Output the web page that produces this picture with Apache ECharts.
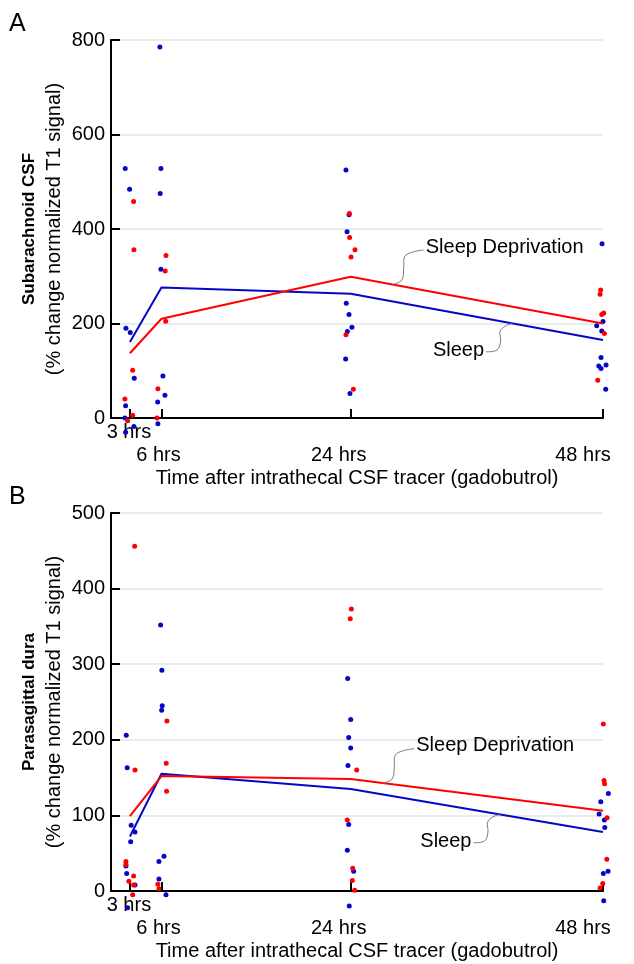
<!DOCTYPE html>
<html>
<head>
<meta charset="utf-8">
<script src="https://cdn.jsdelivr.net/npm/echarts@6/dist/echarts.min.js"></script>
<style>
html,body{margin:0;padding:0;background:#fff;}
#chart{width:634px;height:964px;}
</style>
</head>
<body>
<div id="chart"></div>
<script>
// ---------- data ----------
const tickHours = [3, 6, 24, 48];
const tickLabels = ['3 hrs', '6 hrs', '24 hrs', '48 hrs'];
const meanHours = [3, 6, 24, 48];

// Panel A: Subarachnoid CSF
const sleepMeanA = [161, 276, 263, 165];
const sdMeanA = [137, 210, 299, 200];
const sleepPtsA = [
  [2.55,528],[2.97,484],[2.62,190],[3.03,181],[3.41,84],[2.59,26],[2.52,0],[2.59,-30],[3.38,-18],
  [5.85,785],[5.95,528],[5.88,475],[5.95,315],[6.14,89],[6.33,48],[5.64,34],[5.66,-12],
  [23.55,525],[23.84,430],[23.65,394],[23.58,243],[23.84,219],[24.12,192],[23.68,183],[23.52,125],[23.93,52],
  [47.91,369],[48.0,204],[47.4,195],[47.88,184],[47.81,128],[47.6,110],[47.81,105],[48.29,112],[48.26,61]
];
const sdPtsA = [
  [3.35,458],[3.38,356],[3.26,101],[2.52,40],[3.26,6],[2.78,-6],
  [6.43,344],[6.36,311],[6.40,205],[5.66,62],[5.57,0],
  [23.88,433],[23.9,382],[24.41,356],[24.03,341],[23.55,176],[24.25,61],
  [47.78,271],[47.72,262],[48.07,222],[47.88,219],[48.13,179],[47.5,80]
];

// Panel B: Parasagittal dura
const sleepMeanB = [72, 155, 135, 78];
const sdMeanB = [99, 152, 148, 106];
const sleepPtsB = [
  [2.65,206],[2.74,163],[3.12,87],[3.48,78],[3.07,65],[2.62,33],[2.69,23],[3.48,8],[2.78,-22],
  [5.92,352],[6.04,292],[6.07,245],[6.02,239],[6.24,46],[5.76,39],[5.76,16],[6.43,-5],
  [23.71,281],[24.0,227],[23.81,203],[24.0,189],[23.74,166],[23.81,88],[23.68,54],[24.28,26],[23.86,-20],
  [48.51,129],[47.79,118],[47.63,102],[48.13,94],[48.17,84],[48.48,26],[48.03,23],[48.07,-13]
];
const sdPtsB = [
  [3.45,456],[3.48,160],[2.62,39],[2.62,35],[3.35,20],[2.9,13],[3.35,8],[3.26,-5],
  [6.52,225],[6.45,169],[6.49,132],[5.66,9],[5.76,3],
  [24.06,373],[23.96,360],[24.57,160],[23.67,94],[24.19,30],[24.15,14],[24.38,1],
  [48.03,221],[48.1,146],[48.15,142],[48.39,97],[48.36,42],[47.98,10],[47.72,4]
];

const panelTitles = ['Subarachnoid CSF', 'Parasagittal dura'];
const yUnit = '(% change normalized T1 signal)';
const xName = 'Time after intrathecal CSF tracer (gadobutrol)';
const seriesNames = ['Sleep', 'Sleep Deprivation'];
// annotation anchor hours on the mean lines [sleep, sleep deprivation]
const annotHours = [[39.4, 28.0], [38.2, 27.1]];

// ---------- styles ----------
const FONT = '"Liberation Sans", Arial, Helvetica, sans-serif';
const BLUE = '#0606c8';
const RED = '#ff0000';

function xAxis(gi) {
  return {
    type: 'value', gridIndex: gi, min: 1.2, max: 48,
    name: xName, nameLocation: 'middle', nameGap: 50, nameMoveOverlap: false,
    nameTextStyle: { fontSize: 20, color: '#000', fontFamily: FONT },
    axisLine: { show: true, onZero: false, lineStyle: { color: '#000', width: 2 } },
    axisTick: { show: true, inside: true, length: 9, customValues: tickHours, lineStyle: { color: '#000', width: 2 } },
    axisLabel: {
      customValues: tickHours, margin: 4, color: '#000', fontSize: 20, fontFamily: FONT,
      formatter: function (v) {
        const i = tickHours.indexOf(v);
        const key = ['a', 'b', 'c', 'd'][i];
        return '{' + key + '|' + tickLabels[i] + '}';
      },
      rich: {
        a: { fontSize: 20, fontFamily: FONT, color: '#000', padding: [0, 2, 0, 0] },
        b: { fontSize: 20, fontFamily: FONT, color: '#000', padding: [23, 6, 0, 0] },
        c: { fontSize: 20, fontFamily: FONT, color: '#000', padding: [23, 24, 0, 0] },
        d: { fontSize: 20, fontFamily: FONT, color: '#000', padding: [23, 40, 0, 0] }
      }
    },
    splitLine: { show: false }
  };
}
function yAxis(gi, max, interval, title) {
  return {
    type: 'value', gridIndex: gi, min: 0, max: max, interval: interval,
    name: '{t|' + title + '}\n{u|' + yUnit + '}',
    nameLocation: 'middle', nameRotate: 90, nameGap: 44, nameMoveOverlap: false,
    nameTextStyle: {
      color: '#000', fontFamily: FONT,
      rich: {
        t: { fontSize: 17, fontWeight: 'bold', fontFamily: FONT, color: '#000', lineHeight: 25 },
        u: { fontSize: 20, fontFamily: FONT, color: '#000', lineHeight: 25 }
      }
    },
    axisLine: { show: true, lineStyle: { color: '#000', width: 2 } },
    axisTick: { show: true, inside: true, length: 9, lineStyle: { color: '#000', width: 2 } },
    axisLabel: { margin: 6, fontSize: 20, color: '#000', fontFamily: FONT },
    splitLine: { show: true, lineStyle: { color: '#e6ecf0', width: 2 } }
  };
}
function scatter(gi, name, pts, color) {
  return {
    type: 'scatter', name: name, xAxisIndex: gi, yAxisIndex: gi, data: pts,
    symbolSize: 5, clip: false, itemStyle: { color: color, opacity: 1 }, z: 3
  };
}
function meanLine(gi, name, vals, color) {
  return {
    type: 'line', name: name, xAxisIndex: gi, yAxisIndex: gi,
    data: meanHours.map((h, i) => [h, vals[i]]),
    showSymbol: false, symbol: 'none', clip: false,
    lineStyle: { color: color, width: 2 }, z: 4
  };
}

const option = {
  animation: false,
  backgroundColor: '#fff',
  grid: [
    { left: 111, right: 31, top: 40, height: 378 },
    { left: 111, right: 31, top: 513, height: 378 }
  ],
  xAxis: [xAxis(0), xAxis(1)],
  yAxis: [yAxis(0, 800, 200, panelTitles[0]), yAxis(1, 500, 100, panelTitles[1])],
  series: [
    scatter(0, seriesNames[0], sleepPtsA, BLUE),
    scatter(0, seriesNames[1], sdPtsA, RED),
    meanLine(0, seriesNames[0], sleepMeanA, BLUE),
    meanLine(0, seriesNames[1], sdMeanA, RED),
    scatter(1, seriesNames[0], sleepPtsB, BLUE),
    scatter(1, seriesNames[1], sdPtsB, RED),
    meanLine(1, seriesNames[0], sleepMeanB, BLUE),
    meanLine(1, seriesNames[1], sdMeanB, RED)
  ]
};

const chart = echarts.init(document.getElementById('chart'), null, { renderer: 'canvas' });
chart.setOption(option);

// ---------- annotations with leader lines ----------
function valAt(vals, h) {
  for (let i = 0; i < meanHours.length - 1; i++) {
    if (h >= meanHours[i] && h <= meanHours[i + 1]) {
      const t = (h - meanHours[i]) / (meanHours[i + 1] - meanHours[i]);
      return vals[i] + t * (vals[i + 1] - vals[i]);
    }
  }
  return vals[vals.length - 1];
}
const sdLeader = [[0, 0], [9, -4.5], [11, -17], [12, -28], [20, -32.5], [31, -34.5]];
const slLeader = [[0, 0], [-7, 2.5], [-12.5, 8], [-12, 17.5], [-15.5, 26.5], [-26.5, 28.3]];
const graphics = [];
const means = [[sleepMeanA, sdMeanA], [sleepMeanB, sdMeanB]];
for (let g = 0; g < 2; g++) {
  // Sleep deprivation
  const hSD = annotHours[g][1];
  const aSD = chart.convertToPixel({ gridIndex: g }, [hSD, valAt(means[g][1], hSD)]);
  const ptsSD = sdLeader.map(p => [aSD[0] + p[0], aSD[1] + p[1]]);
  graphics.push({ type: 'polyline', shape: { points: ptsSD, smooth: 0.4 }, style: { stroke: '#7a7a7a', lineWidth: 1, fill: null }, z: 10 });
  const eSD = ptsSD[ptsSD.length - 1];
  graphics.push({ type: 'text', style: { text: seriesNames[1], x: eSD[0] + 2, y: eSD[1] - 3, font: '20px ' + FONT, fill: '#000', textAlign: 'left', textVerticalAlign: 'middle' }, z: 10 });
  // Sleep
  const hS = annotHours[g][0];
  const aS = chart.convertToPixel({ gridIndex: g }, [hS, valAt(means[g][0], hS)]);
  const ptsS = slLeader.map(p => [aS[0] + p[0], aS[1] + p[1]]);
  graphics.push({ type: 'polyline', shape: { points: ptsS, smooth: 0.4 }, style: { stroke: '#7a7a7a', lineWidth: 1, fill: null }, z: 10 });
  const eS = ptsS[ptsS.length - 1];
  graphics.push({ type: 'text', style: { text: seriesNames[0], x: eS[0] - 2, y: eS[1] - 1, font: '20px ' + FONT, fill: '#000', textAlign: 'right', textVerticalAlign: 'middle' }, z: 10 });
}
graphics.push({ type: 'text', style: { text: 'A', x: 9, y: 24, font: '25px ' + FONT, fill: '#000', textAlign: 'left', textVerticalAlign: 'middle' } });
graphics.push({ type: 'text', style: { text: 'B', x: 9, y: 497, font: '25px ' + FONT, fill: '#000', textAlign: 'left', textVerticalAlign: 'middle' } });
chart.setOption({ graphic: graphics });
</script>
</body>
</html>
